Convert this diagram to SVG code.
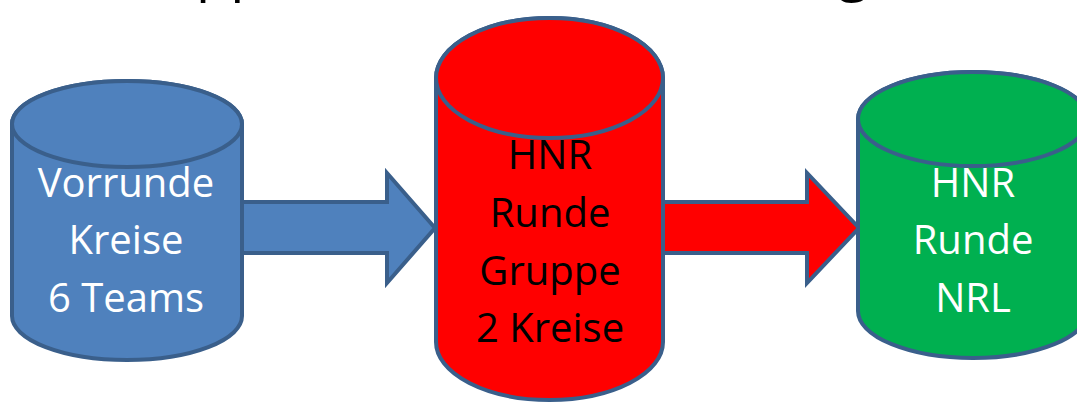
<svg xmlns="http://www.w3.org/2000/svg" width="1077" height="403" viewBox="0 0 1077 403">
<style>
.st{stroke:#3A5F8B;stroke-width:4;stroke-linejoin:miter}
.lbl{font-family:"Open Sans","DejaVu Sans",sans-serif;font-size:40px;text-anchor:middle}
.title{font-family:"Open Sans","DejaVu Sans",sans-serif;font-size:56px;fill:#000}
</style>
<rect width="1077" height="403" fill="#ffffff"/>
<g id="title">
<text class="title" x="196" y="-11">pp</text>
<text class="title" x="838" y="-11">g</text>
</g>
<g id="connectors">
<polygon class="st" fill="#4F81BD" points="236,202 387,202 387,173 435,228 387,283 387,253 236,253"/>
<polygon class="st" fill="#FF0000" points="656,202 807,202 807,173 859,228 807,283 807,253 656,253"/>
</g>
<g id="node-vorrunde">
<path class="st" fill="#4F81BD" d="M12,124 A115,43 0 0 1 242,124 V316 A115,44 0 0 1 12,316 Z"/>
<ellipse class="st" fill="#4F81BD" cx="127" cy="124" rx="115" ry="43"/>
<text class="lbl" fill="#ffffff"><tspan x="126" y="197">Vorrunde</tspan><tspan x="126" y="254">Kreise</tspan><tspan x="126" y="312">6 Teams</tspan></text>
</g>
<g id="node-hnr-gruppe">
<path class="st" fill="#FF0000" d="M436,78 A113.5,60 0 0 1 663,78 V342 A113.5,58 0 0 1 436,342 Z"/>
<ellipse class="st" fill="#FF0000" cx="549.5" cy="78" rx="113.5" ry="60"/>
<text class="lbl" fill="#000000"><tspan x="550" y="169">HNR</tspan><tspan x="550" y="227">Runde</tspan><tspan x="550" y="285">Gruppe</tspan><tspan x="550" y="342">2 Kreise</tspan></text>
</g>
<g id="node-hnr-nrl">
<path class="st" fill="#00B050" d="M858,119 A115,47 0 0 1 1088,119 V311 A115,47 0 0 1 858,311 Z"/>
<ellipse class="st" fill="#00B050" cx="973" cy="119" rx="115" ry="47"/>
<text class="lbl" fill="#ffffff"><tspan x="973" y="197">HNR</tspan><tspan x="973" y="254">Runde</tspan><tspan x="973" y="312">NRL</tspan></text>
</g>
</svg>
